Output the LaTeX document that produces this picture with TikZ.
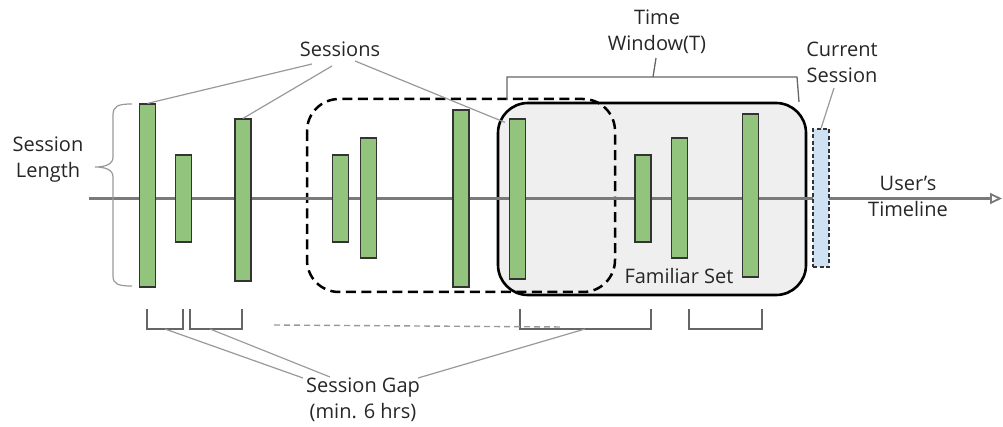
\documentclass[tikz,border=0pt]{standalone}
\usepackage{fontspec}
\setmainfont{Open Sans}
\usetikzlibrary{arrows.meta}
\definecolor{barfill}{HTML}{93C47D}
\definecolor{barline}{HTML}{333333}
\definecolor{curfill}{HTML}{CFE2F3}
\definecolor{setfill}{HTML}{EFEFEF}
\definecolor{axisgray}{HTML}{7A7A7A}
\definecolor{callgray}{HTML}{999999}
\definecolor{brgray}{HTML}{666666}
\definecolor{txt}{HTML}{262626}
\tikzset{
  bar/.style={draw=barline, line width=1.2pt, fill=barfill, inner sep=0pt, minimum width=16pt},
  curbar/.style={draw=barline, line width=1.1pt, dash pattern=on 4pt off 2.5pt, fill=curfill, inner sep=0pt, minimum width=16pt},
  lbl/.style={text=txt, align=center, inner sep=0pt, font=\fontsize{20}{26}\selectfont},
  callout/.style={draw=callgray, line width=1.2pt},
  bracket/.style={draw=brgray, line width=1.3pt},
  axis/.style={draw=axisgray, line width=2.4pt, -{Triangle[open, length=12pt, width=11pt, line width=1.8pt]}},
}
\begin{document}
\begin{tikzpicture}[x=1pt, y=-1pt]
\useasboundingbox (0,0) rectangle (1003,427);

% familiar set (fill) and the dashed earlier window
\fill[setfill, rounded corners=30pt] (498,103) rectangle (806,295);
\draw[line width=2.5pt, dash pattern=on 10pt off 5.5pt, rounded corners=32pt] (307,99) rectangle (615,292);
\draw[line width=2.6pt, rounded corners=30pt] (498,103) rectangle (806,295);

% timeline
\coordinate (tstart) at (89,198.5);
\coordinate (tend) at (1002,198.5);
\draw[axis] (tstart) -- (tend);

% sessions on the timeline
\node[bar, minimum height=183pt] (b1) at (147.5,195.5) {};
\node[bar, minimum height=87pt]  (b2) at (183.5,198.5) {};
\node[bar, minimum height=162pt] (b3) at (243,200) {};
\node[bar, minimum height=87pt]  (b4) at (340.5,198.5) {};
\node[bar, minimum height=120pt] (b5) at (368.5,198) {};
\node[bar, minimum height=177pt] (b6) at (461,198.5) {};
\node[bar, minimum height=160pt] (b7) at (517.5,199) {};
\node[bar, minimum height=87pt]  (b8) at (643,198.5) {};
\node[bar, minimum height=120pt] (b9) at (679.5,198) {};
\node[bar, minimum height=163pt] (b10) at (750.5,195.5) {};
\node[curbar, minimum height=138pt] (cur) at (821,198) {};

% labels
\node[lbl] (sessions) at (340,49) {Sessions};
\node[lbl] (slength) at (48,160) {Session\\Length};
\node[lbl] (twin) at (657,32) {Time\\Window(T)};
\node[lbl] (cursess) at (842,62) {Current\\Session};
\node[lbl] (utl) at (908,196) {User’s\\Timeline};
\node[lbl] (fam) at (679,276) {Familiar Set};
\node[lbl] (gap) at (363,400) {Session Gap\\(min. 6 hrs)};

% callouts to the sessions
\coordinate (s1) at (312,64);
\coordinate (s2) at (332,66);
\coordinate (s3) at (355,61);
\draw[callout] (s1) -- (b1.north);
\draw[callout] (s2) -- (b3.north);
\draw[callout] (s3) -- ([xshift=-4pt,yshift=-4pt]b7.north west);

% current session callout
\coordinate (c1) at (834,88);
\draw[callout] (c1) -- (cur.north);

% session length brace
\draw[callout] (132,104) .. controls (118,104) and (113,106) .. (113,115) -- (113,157)
  .. controls (113,164) and (106,167) .. (95,167)
  .. controls (106,167) and (113,170) .. (113,177) -- (113,276)
  .. controls (113,284) and (118,286) .. (132,286);

% time window bracket
\draw[bracket] (507,100) -- (507,77) -- (797,77) -- (799,102);
\draw[bracket] (653,77) -- (656,58);

% session gaps
\draw[bracket] (147,309) -- (147,329) -- (183,329) -- (183,309);
\draw[bracket] (190,309) -- (190,329) -- (242,329) -- (242,309);
\draw[bracket] (520,309) -- (520,329) -- (651,329) -- (651,309);
\draw[bracket] (689,309) -- (689,329) -- (762,329) -- (762,309);
\draw[draw=callgray, line width=1.4pt, dash pattern=on 6pt off 4pt] (274,325) -- (563,327);

\coordinate (g1) at (303,378);
\coordinate (g2) at (330,377);
\coordinate (g3) at (418,378);
\draw[callout] (165,329) -- (g1);
\draw[callout] (210,329) -- (g2);
\draw[callout] (g3) -- (585,329);
\end{tikzpicture}
\end{document}
